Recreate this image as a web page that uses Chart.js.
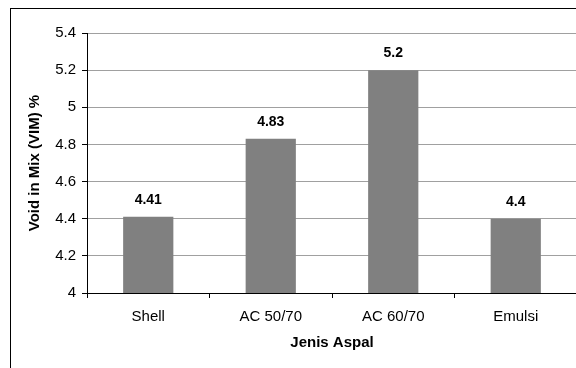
<!DOCTYPE html>
<html>
<head>
<meta charset="utf-8">
<script src="https://cdn.jsdelivr.net/npm/chart.js@4.4.0/dist/chart.umd.min.js"></script>
<style>
    html, body { margin: 0; padding: 0; background: #fff; overflow: hidden; }
    #wrap { position: relative; width: 576px; height: 368px; overflow: hidden; background: #fff; }
    #frame { position: absolute; left: 10px; top: 8px; width: 700px; height: 500px; border: 1px solid #000; }
    #chart { position: absolute; left: 0; top: 0; }
</style>
</head>
<body>
<div id="wrap">
    <div id="frame"></div>
    <canvas id="chart" width="600" height="380"></canvas>
</div>
<script>
// Chart data
const categories = ['Shell', 'AC 50/70', 'AC 60/70', 'Emulsi'];
const vimValues = [4.41, 4.83, 5.2, 4.4];
const yTicks = [4, 4.2, 4.4, 4.6, 4.8, 5, 5.2, 5.4];

const fontFamily = '"Liberation Sans", Arial, sans-serif';

// Draw value labels above each bar
const barLabels = {
    id: 'barLabels',
    afterDatasetsDraw(chart) {
        const ctx = chart.ctx;
        const meta = chart.getDatasetMeta(0);
        ctx.save();
        ctx.font = 'bold 14px ' + fontFamily;
        ctx.fillStyle = '#000';
        ctx.textAlign = 'center';
        ctx.textBaseline = 'middle';
        meta.data.forEach((bar, i) => {
            ctx.fillText(String(vimValues[i]), bar.x, bar.y - 17);
        });
        ctx.restore();
    }
};

const ctx = document.getElementById('chart');

new Chart(ctx, {
    type: 'bar',
    data: {
        labels: categories,
        datasets: [{
            data: vimValues,
            backgroundColor: '#808080',
            borderWidth: 0,
            barPercentage: 0.41,
            categoryPercentage: 1
        }]
    },
    options: {
        responsive: false,
        animation: false,
        layout: {
            padding: { left: 0, top: 33, right: 23, bottom: 0 }
        },
        plugins: {
            legend: { display: false },
            tooltip: { enabled: false }
        },
        scales: {
            x: {
                grid: {
                    display: true,
                    drawOnChartArea: false,
                    tickLength: 5,
                    tickColor: '#000'
                },
                border: { color: '#000', width: 1 },
                ticks: {
                    color: '#000',
                    padding: 10,
                    font: { family: fontFamily, size: 15 }
                },
                title: {
                    display: true,
                    text: 'Jenis Aspal',
                    color: '#000',
                    padding: { top: 0, bottom: 28 },
                    font: { family: fontFamily, size: 15, weight: 'bold' }
                },
                afterFit(scale) {
                    scale.height = 87;
                }
            },
            y: {
                min: 4,
                max: 5.4,
                afterBuildTicks(scale) {
                    scale.ticks = yTicks.map(v => ({ value: v }));
                },
                grid: {
                    color: '#a0a0a0',
                    tickLength: 5,
                    tickColor: '#000'
                },
                border: { color: '#000', width: 1 },
                ticks: {
                    color: '#000',
                    padding: 6,
                    font: { family: fontFamily, size: 15 },
                    callback: (value) => String(value)
                },
                title: {
                    display: true,
                    text: 'Void in Mix (VIM) %',
                    color: '#000',
                    padding: { top: 26, bottom: 0 },
                    font: { family: fontFamily, size: 15, weight: 'bold' }
                },
                afterFit(scale) {
                    scale.width = 87;
                }
            }
        }
    },
    plugins: [barLabels]
});
</script>
</body>
</html>
